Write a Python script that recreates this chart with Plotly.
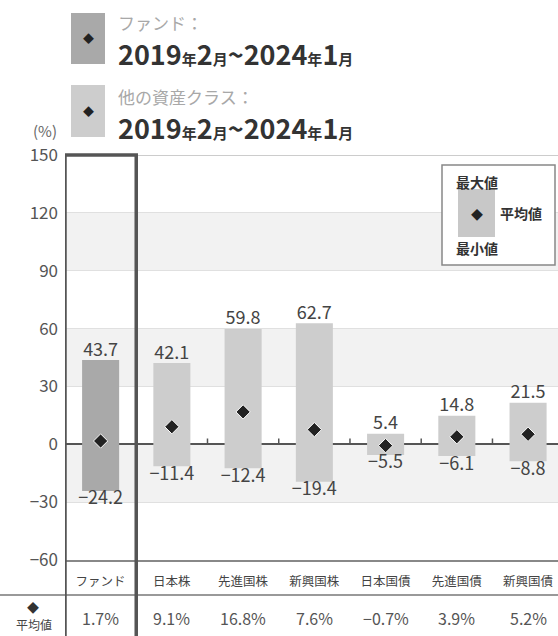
import plotly.graph_objects as go

categories = ["ファンド", "日本株", "先進国株", "新興国株", "日本国債", "先進国債", "新興国債"]
max_vals = [43.7, 42.1, 59.8, 62.7, 5.4, 14.8, 21.5]
min_vals = [-24.2, -11.4, -12.4, -19.4, -5.5, -6.1, -8.8]
avg_vals = [1.7, 9.1, 16.8, 7.6, -0.7, 3.9, 5.2]
y_ticks = [-60, -30, 0, 30, 60, 90, 120, 150]
bands = [(90, 120), (30, 60), (-30, 0)]

FONT = "Noto Sans CJK JP"
W, H = 558, 636
L, R, T, B = 65, 0, 155, 76
PW, PH = W - L - R, H - T - B


def px(xp):
    return (xp - L) / PW


def py(yp):
    return (H - B - yp) / PH


def fmt(v):
    s = f"{abs(v):.1f}"
    return ("−" + s) if v < 0 else s


x = list(range(len(categories)))
bar_colors = ["#a9a9a9"] + ["#cdcdcd"] * (len(categories) - 1)

fig = go.Figure()
fig.add_trace(go.Bar(
    x=x, y=[mx - mn for mx, mn in zip(max_vals, min_vals)], base=min_vals,
    width=0.52, marker=dict(color=bar_colors, line=dict(width=0)),
    hoverinfo="skip", showlegend=False))
fig.add_trace(go.Scatter(
    x=x, y=avg_vals, mode="markers",
    marker=dict(symbol="diamond", size=11, color="#222222", line=dict(color="white", width=1)),
    showlegend=False))
fig.add_trace(go.Scatter(
    x=x, y=max_vals, mode="text", text=[fmt(v) for v in max_vals],
    textposition="top center", textfont=dict(family=FONT, size=18, color="#444444"),
    showlegend=False))
fig.add_trace(go.Scatter(
    x=x, y=min_vals, mode="text", text=[fmt(v) for v in min_vals],
    textposition="bottom center", textfont=dict(family=FONT, size=18, color="#444444"),
    showlegend=False))

shapes = []
for lo, hi in bands:
    shapes.append(dict(type="rect", xref="paper", yref="y", x0=0, x1=1, y0=lo, y1=hi,
                       fillcolor="#f2f2f2", line=dict(width=0), layer="below"))
# top line at 150
shapes.append(dict(type="line", xref="paper", yref="y", x0=0, x1=1, y0=150, y1=150,
                   line=dict(color="#bbbbbb", width=1.5)))
# small ticks on zero line between categories
for i in range(1, len(categories) - 1):
    shapes.append(dict(type="line", xref="x", yref="y", x0=i + 0.5, x1=i + 0.5, y0=0, y1=3,
                       line=dict(color="#555555", width=1.5)))
# table line below category labels
shapes.append(dict(type="line", xref="paper", yref="paper", x0=px(0), x1=1, y0=py(595), y1=py(595),
                   line=dict(color="#777777", width=1.5)))
# fund highlight box
shapes.append(dict(type="rect", xref="x", yref="paper", x0=-0.5, x1=0.5, y0=py(660), y1=1,
                   line=dict(color="#555555", width=3.5), fillcolor="rgba(0,0,0,0)"))
# header legend squares
shapes.append(dict(type="rect", xref="paper", yref="paper", x0=px(71), x1=px(105), y0=py(64), y1=py(13),
                   fillcolor="#a9a9a9", line=dict(width=0)))
shapes.append(dict(type="rect", xref="paper", yref="paper", x0=px(71), x1=px(105), y0=py(137), y1=py(85),
                   fillcolor="#cdcdcd", line=dict(width=0)))
# key box (top right)
shapes.append(dict(type="rect", xref="paper", yref="paper", x0=px(442), x1=px(555), y0=py(265), y1=py(165),
                   fillcolor="white", line=dict(color="#888888", width=1.5)))
shapes.append(dict(type="rect", xref="paper", yref="paper", x0=px(458), x1=px(495), y0=py(237), y1=py(189),
                   fillcolor="#c8c8c8", line=dict(width=0)))

ann = []


def A(text, xp, yp, size, color="#444444", xanchor="center", **kw):
    ann.append(dict(text=text, x=px(xp), y=py(yp), xref="paper", yref="paper", showarrow=False,
                    xanchor=xanchor, yanchor="middle", font=dict(family=FONT, size=size, color=color), **kw))


A("◆", 88, 38, 11, "#222222")
A("◆", 88, 111, 11, "#222222")
A("ファンド：", 116, 22, 17, "#a8a8a8", xanchor="left")
A("他の資産クラス：", 116, 97, 17, "#a8a8a8", xanchor="left")
sm = "<span style='font-size:15px'>{}</span>"
date = "<b>2019" + sm.format("年") + "2" + sm.format("月") + "~2024" + sm.format("年") + "1" + sm.format("月") + "</b>"
A(date, 116, 53, 27, "#333333", xanchor="left")
A(date, 116, 127, 27, "#333333", xanchor="left")
A("(%)", 45, 131, 15, "#666666")
# key texts
A("<b>最大値</b>", 477, 182, 14, "#333333")
A("<b>最小値</b>", 477, 248, 14, "#333333")
A("<b>平均値</b>", 498, 213, 14, "#333333", xanchor="left")
A("◆", 477, 214, 12, "#222222")
# average row
A("◆", 33, 607, 12, "#333333")
A("平均値", 34, 624, 12, "#444444")
for i, v in enumerate(avg_vals):
    ann.append(dict(text=fmt(v) + "%", x=i, y=py(618), xref="x", yref="paper", showarrow=False,
                    xanchor="center", yanchor="middle", font=dict(family=FONT, size=16, color="#555555")))

fig.update_layout(
    width=W, height=H, margin=dict(l=L, r=R, t=T, b=B),
    paper_bgcolor="white", plot_bgcolor="white",
    font=dict(family=FONT, color="#555555"),
    shapes=shapes, annotations=ann, bargap=0.48,
    xaxis=dict(range=[-0.5, 6.42], tickvals=x, ticktext=categories, showgrid=False,
               tickfont=dict(family=FONT, size=12.5, color="#444444"), ticks="", ticklabelstandoff=9,
               showline=True, linecolor="#888888", linewidth=1.5, zeroline=False, fixedrange=True),
    yaxis=dict(range=[-60, 150], tickvals=y_ticks, ticktext=[fmt(v).replace(".0", "") for v in y_ticks],
               showgrid=True, gridcolor="#e0e0e0", gridwidth=1,
               zeroline=True, zerolinecolor="#555555", zerolinewidth=1.5,
               tickfont=dict(family=FONT, size=17, color="#555555"), ticks="", ticklabelstandoff=6,
               showline=False, fixedrange=True),
)

fig.write_html("out.html", config={"displayModeBar": False},
               post_script="document.body.style.margin='0px';document.body.style.overflow='hidden';")
